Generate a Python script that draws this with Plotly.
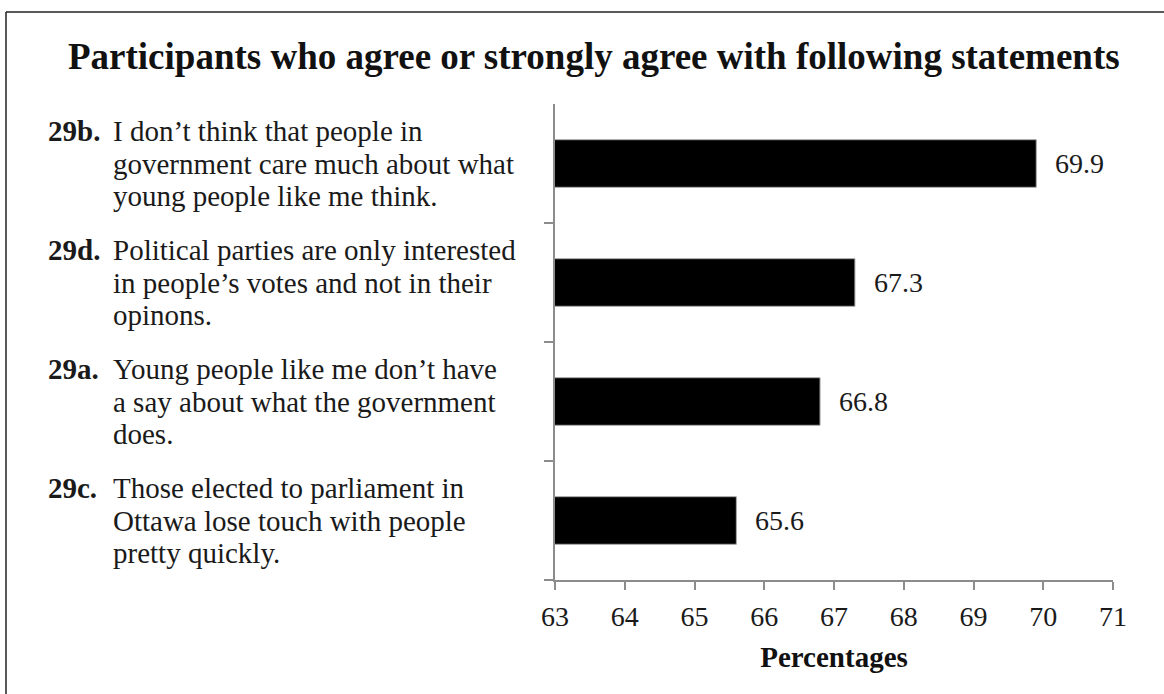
import plotly.graph_objects as go

# ---- data ----
codes = ["29b.", "29d.", "29a.", "29c."]
statement_lines = [
    ["I don\u2019t think that people in", "government care much about what", "young people like me think."],
    ["Political parties are only interested", "in people\u2019s votes and not in their", "opinons."],
    ["Young people like me don\u2019t have", "a say about what the government", "does."],
    ["Those elected to parliament in", "Ottawa lose touch with people", "pretty quickly."],
]
values = [69.9, 67.3, 66.8, 65.6]
x_ticks = [63, 64, 65, 66, 67, 68, 69, 70, 71]
title_text = "Participants who agree or strongly agree with following statements"
x_title = "Percentages"

# ---- layout geometry ----
W, H = 1164, 694
L, R, T, B = 555, 1113, 104, 580

def px(x):
    return (x - L) / (R - L)

def py(y):
    return (B - y) / (B - T)

SERIF = "Liberation Serif, Times New Roman, serif"
idx = list(range(len(codes)))

fig = go.Figure()
fig.add_trace(go.Bar(
    x=values, y=idx, orientation="h",
    marker=dict(color="#000000", line=dict(color="#a8a8a8", width=1)),
    width=0.4, hoverinfo="skip",
))

annotations = []
# value labels
for i, v in zip(idx, values):
    annotations.append(dict(
        x=v, y=i, xref="x", yref="y", text=f"{v:.1f}", showarrow=False,
        xanchor="left", yanchor="middle", xshift=17,
        font=dict(family=SERIF, size=28, color="#1a1a1a"),
    ))
# left statement labels
line_gap = 32.5
for i, (code, lines) in zip(idx, zip(codes, statement_lines)):
    n = len(lines)
    for j, line in enumerate(lines):
        shift = -(j - (n - 1) / 2) * line_gap
        annotations.append(dict(
            x=px(111), y=i, xref="paper", yref="y", text=line, showarrow=False,
            xanchor="left", yanchor="middle", yshift=shift,
            font=dict(family=SERIF, size=29, color="#1a1a1a"),
        ))
        if j == 0:
            annotations.append(dict(
                x=px(46), y=i, xref="paper", yref="y", text=f"<b>{code}</b>", showarrow=False,
                xanchor="left", yanchor="middle", yshift=shift,
                font=dict(family=SERIF, size=29, color="#1a1a1a"),
            ))
# title
annotations.append(dict(
    x=px(594), y=py(57), xref="paper", yref="paper", text=f"<b>{title_text}</b>",
    showarrow=False, xanchor="center", yanchor="middle",
    font=dict(family=SERIF, size=37, color="#111111"),
))

shapes = [
    dict(type="line", xref="paper", yref="paper", x0=px(6), x1=px(1164), y0=py(12), y1=py(12),
         line=dict(color="#222222", width=1.5)),
    dict(type="line", xref="paper", yref="paper", x0=px(6), x1=px(6), y0=py(12), y1=py(694),
         line=dict(color="#222222", width=1.5)),
]

fig.update_layout(
    width=W, height=H,
    margin=dict(l=L, r=W - R, t=T, b=H - B, pad=0),
    paper_bgcolor="white", plot_bgcolor="white",
    showlegend=False,
    annotations=annotations, shapes=shapes,
    xaxis=dict(
        range=[x_ticks[0], x_ticks[-1]], tickvals=x_ticks, ticktext=[str(t) for t in x_ticks],
        showgrid=False, zeroline=False,
        showline=True, linecolor="#8c8c8c", linewidth=2,
        ticks="outside", ticklen=8, tickwidth=2, tickcolor="#8c8c8c",
        ticklabelstandoff=2,
        tickfont=dict(family=SERIF, size=28, color="#1a1a1a"),
        title=dict(text=f"<b>{x_title}</b>", font=dict(family=SERIF, size=29, color="#111111"), standoff=16),
    ),
    yaxis=dict(
        range=[len(idx) - 0.5, -0.5],
        tickvals=[k + 0.5 for k in idx],
        showticklabels=False, showgrid=False, zeroline=False,
        showline=True, linecolor="#8c8c8c", linewidth=2,
        ticks="outside", ticklen=9, tickwidth=2, tickcolor="#8c8c8c",
    ),
)

fig.write_html(
    "out.html",
    config={"displayModeBar": False},
    post_script="document.body.style.margin='0';document.body.style.overflow='hidden';",
)
